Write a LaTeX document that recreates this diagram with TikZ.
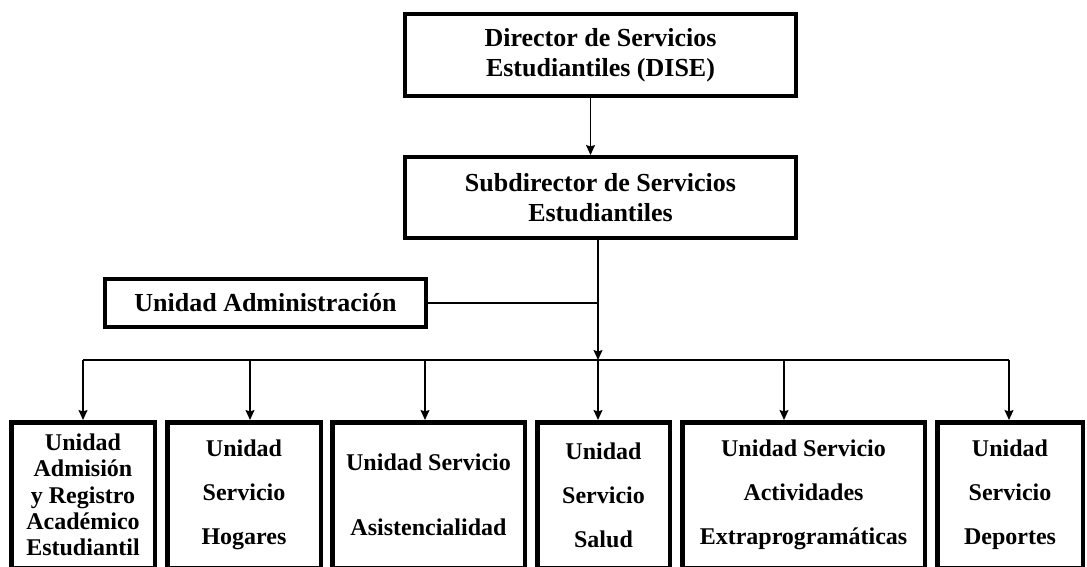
\documentclass[tikz,border=0pt]{standalone}
\usepackage{fontspec}
\setmainfont{Liberation Serif}
\usetikzlibrary{arrows.meta}

\begin{document}
\begin{tikzpicture}[x=1pt,y=-1pt]
\tikzstyle{jefe}=[draw, line width=4pt, align=center, inner sep=0pt, font=\bfseries\fontsize{26}{30}\selectfont]
\tikzstyle{unidad}=[draw, line width=4.5pt, align=center, inner sep=0pt, minimum height=145.5pt, font=\bfseries\fontsize{24}{44}\selectfont]
\tikzstyle{flecha}=[line width=1.4pt, -{Stealth[length=10pt,width=9pt,inset=1.5pt]}]
\tikzstyle{linea}=[line width=1.4pt]

\useasboundingbox (0,0) rectangle (1087,567);

\node[jefe, minimum width=391pt, minimum height=82pt] (dir) at (600.5,55) {Director de Servicios\\Estudiantiles (DISE)};
\node[jefe, minimum width=391pt, minimum height=81pt] (subdir) at (600.5,197.5) {Subdirector de Servicios\\Estudiantiles};
\node[jefe, minimum width=321pt, minimum height=48pt] (admin) at (265.5,303) {Unidad Administración};

\node[unidad, minimum width=143.5pt, font=\bfseries\fontsize{24}{26.3}\selectfont] (u1) at (83,495) {Unidad\\Admisión\\y Registro\\Académico\\Estudiantil};
\node[unidad, minimum width=153.5pt] (u2) at (244,495) {Unidad\\Servicio\\Hogares};
\node[unidad, minimum width=192.5pt, font=\bfseries\fontsize{24}{65}\selectfont] (u3) at (428.5,495) {Unidad Servicio\\Asistencialidad};
\node[unidad, minimum width=132.5pt] (u4) at (603.5,495) {Unidad\\Servicio\\Salud};
\node[unidad, minimum width=242.5pt] (u5) at (803.5,495) {Unidad Servicio\\Actividades\\Extraprogramáticas};
\node[unidad, minimum width=145.5pt] (u6) at (1010,495) {Unidad\\Servicio\\Deportes};

\coordinate (b1) at (83,360);
\coordinate (b2) at (250,360);
\coordinate (b3) at (425,360);
\coordinate (b4) at (598,360);
\coordinate (b5) at (784,360);
\coordinate (b6) at (1009,360);

\draw[flecha] ([xshift=-10pt]dir.south) -- ([xshift=-10pt]subdir.north);
\draw[flecha] (subdir.south -| b4) -- (b4);
\draw[linea] (admin.east) -- (admin.east -| b4);
\draw[linea] (b1) -- (b6);
\foreach \i in {1,...,6}
  \draw[flecha] (b\i) -- (b\i |- u\i.north);
\end{tikzpicture}
\end{document}
